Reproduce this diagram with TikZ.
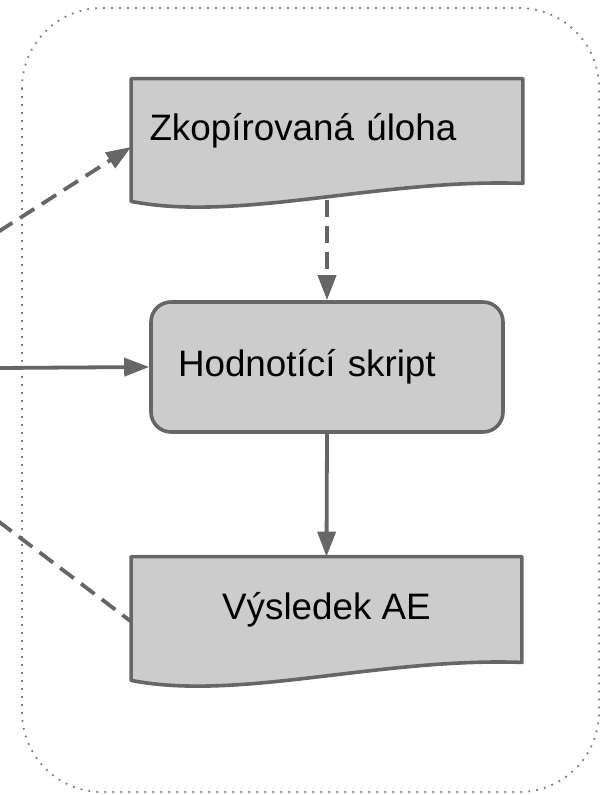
\documentclass[tikz,border=0pt]{standalone}
\usepackage{fontspec}
\setmainfont{Liberation Sans}
\usetikzlibrary{arrows.meta,backgrounds}
\definecolor{boxgray}{HTML}{CCCCCC}
\definecolor{edgegray}{HTML}{666666}
\definecolor{dotgray}{HTML}{7F7F7F}
\def\docpiece#1{(#1.north west) -- (#1.north east) -- (#1.south east)
  .. controls ([xshift=-71.5pt,yshift=2.5pt]#1.south east) and ([xshift=54pt,yshift=-19.5pt]#1.south west) .. ([yshift=-9pt]#1.south west) -- cycle}
\def\dgray{\draw[line width=1.8pt,edgegray,fill=boxgray,line join=round]}

\begin{document}
\begin{tikzpicture}[x=0.5pt,y=-0.5pt,
    box/.style={inner sep=0pt,font=\fontsize{18.4}{22}\selectfont},
    link/.style={line width=1.9pt,edgegray,-{Triangle[length=12.5pt,width=9pt]}},
    dlink/.style={link,dash pattern=on 8.5pt off 4.5pt}]
\useasboundingbox (0,0) rectangle (607,795);
\draw[dotgray,line width=0.9pt,dash pattern=on 0.9pt off 3.1pt,rounded corners=40pt] (22,8) rectangle (599,792);

\node[box,minimum width=195.5pt,minimum height=52pt,text width=177.5pt,align=left] (copy) at (327,131) {Zkopírovaná úloha};
\node[box,draw=edgegray,fill=boxgray,line width=1.8pt,rounded corners=10pt,
      minimum width=176pt,minimum height=65pt,text width=149pt,align=left] (script) at (327,367) {Hodnotící skript};
\node[box,minimum width=195pt,minimum height=52.5pt,align=center] (result) at (326.5,609.5) {Výsledek AE};
\begin{scope}[on background layer]
  \dgray \docpiece{copy};
  \dgray \docpiece{result};
\end{scope}

\coordinate (inA) at (-2,232);
\coordinate (inB) at (-2,368);
\coordinate (inC) at (-2,521);
\draw[dlink] (inA) -- ([yshift=-8pt]copy.west);
\draw[link] (inB) -- (script.west);
\draw[dlink,-] (inC) -- ([yshift=-6pt]result.west);
\draw[dlink] ([yshift=-8.5pt]copy.south) -- (script.north);
\draw[link] (script.south) -- (result.north);
\end{tikzpicture}
\end{document}
